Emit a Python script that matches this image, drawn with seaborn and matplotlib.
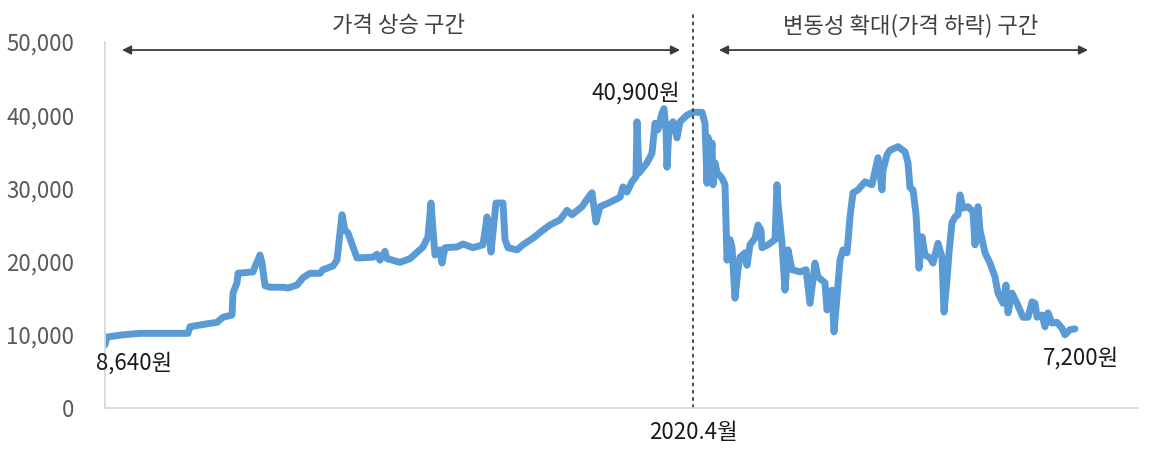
import matplotlib
matplotlib.use("Agg")
import matplotlib.pyplot as plt
import seaborn as sns
import pandas as pd

# trading-day index (0 = start of series) and price in won
day = [0, 2, 18, 35, 83, 85, 102, 112, 118, 127, 128, 132, 133, 148, 150, 155, 157, 160,
       165, 178, 183, 192, 198, 205, 215, 218, 228, 232, 237, 240, 243, 248, 252, 268,
       272, 275, 280, 282, 295, 305,
       318, 323, 326, 328, 330, 335, 337, 340, 352, 358, 368, 378, 382, 384, 386, 391,
       398, 400, 403, 412, 418, 428, 438, 445, 455, 462, 467, 477, 485, 487, 491, 495,
       505, 515, 518, 522, 527, 531, 532, 534, 542, 547, 550, 553, 557, 559, 561, 562,
       564, 568, 572, 575, 582, 588, 597,
       600, 602, 603, 605, 607, 608, 610, 612, 617, 620, 622, 625, 627, 630, 633, 635,
       640, 642, 645, 650, 653, 656, 657, 663, 670, 672, 673, 677, 680, 683, 687, 695,
       701, 705, 710, 713, 720, 722, 727, 729, 732, 735, 738, 742, 745, 748, 753, 760,
       767, 773, 777, 778, 782, 785, 793, 800, 803, 805, 808, 811, 814,
       817, 820, 825, 828, 833, 837, 839, 842, 844, 847, 850, 853, 855, 858, 863, 868,
       870, 873, 875, 880, 885, 890, 893, 898, 901, 903, 907, 912, 918, 923, 927, 930,
       932, 937, 940, 943, 947, 952, 957, 960, 965, 970]
price = [8640, 9700, 10000, 10200, 10200, 11100, 11500, 11700, 12400, 12700, 15700, 17100,
         18400, 18600, 19300, 20900, 19800, 16700, 16500, 16500, 16400, 16800, 17800, 18400,
         18400, 18900, 19400, 20200, 26400, 24300, 23900, 22000, 20500, 20600, 21000, 20200,
         21400, 20400, 19900, 20400,
         22000, 23400, 28000, 24300, 20900, 21600, 19800, 21900, 22000, 22400, 21900, 22300,
         26100, 24700, 21300, 28000, 28000, 23000, 21900, 21600, 22300, 23200, 24300, 25000,
         25700, 27000, 26400, 27500, 29100, 29400, 25400, 27500, 28100, 28800, 30200, 29500,
         30900, 31600, 39100, 32100, 33500, 34800, 38900, 38000, 40300, 40900, 38000, 32900,
         38400, 39100, 36900, 39100, 40000, 40400, 40400,
         38900, 30700, 37000, 31500, 36200, 30500, 33500, 32200, 31400, 30500, 20200, 23000,
         22000, 15000, 18900, 20600, 21200, 19500, 22300, 23200, 25000, 24300, 21900, 22300,
         23000, 30500, 28000, 22500, 16100, 21600, 18900, 18600, 18900, 14300, 19800, 17900,
         17100, 13400, 16100, 10400, 15200, 20200, 21600, 21200, 26100, 29400, 29800, 30900,
         30500, 34200, 29800, 32500, 34600, 35200, 35700, 35000, 33500, 30100, 29800, 26500,
         19100,
         23400, 20900, 20500, 19800, 22500, 20600, 13100, 17500, 21200, 25300, 26100, 26400,
         29100, 27300, 27500, 26800, 22300, 27500, 24300, 21200, 19800, 17900, 15700, 14300,
         16800, 13000, 15700, 14300, 12400, 12400, 14500, 14300, 12400, 12700, 11100, 13000,
         11600, 11700, 10900, 10000, 10700, 10800]

split_day = 588          # 2020.4
y_ticks = [0, 10000, 20000, 30000, 40000, 50000]

df = pd.DataFrame({"day": day, "price": price})

sns.set_theme(style="white")
plt.rcParams['font.family'] = ['Noto Sans CJK KR', 'DejaVu Sans']

fig = plt.figure(figsize=(11.52, 4.58), dpi=100)
ax = fig.add_axes([105 / 1152, 50 / 458, 1033 / 1152, 366 / 458])

sns.lineplot(data=df, x="day", y="price", ax=ax, color="#5B9BD5", lw=5,
             estimator=None, sort=False, solid_capstyle="round", solid_joinstyle="round")

ax.set_xlim(0, 1033)
ax.set_ylim(0, 50000)
ax.set_xticks([])
ax.set_yticks(y_ticks)
ax.set_yticklabels([f"{v:,}" for v in y_ticks])
ax.tick_params(axis="y", length=0, pad=22, labelsize=16, labelcolor="#595959")
ax.set_xlabel("")
ax.set_ylabel("")

for s in ["top", "right"]:
    ax.spines[s].set_visible(False)
for s in ["left", "bottom"]:
    ax.spines[s].set_color("#d9d9d9")
    ax.spines[s].set_linewidth(1.3)

# split line
ax.plot([split_day, split_day], [0, 54100], ls=(0, (2, 2)), color="#404040", lw=1.3,
        clip_on=False)

# section arrows
arrow = dict(arrowstyle="<|-|>", color="#3a3a3a", lw=1.3, mutation_scale=13,
             shrinkA=0, shrinkB=0)
ax.annotate("", xy=(17, 48900), xytext=(575, 48900), arrowprops=arrow, annotation_clip=False)
ax.annotate("", xy=(614, 48900), xytext=(983, 48900), arrowprops=arrow, annotation_clip=False)
ax.text(293, 52300, "가격 상승 구간", ha="center", va="center", fontsize=16, color="#404040")
ax.text(806, 52300, "변동성 확대(가격 하락) 구간", ha="center", va="center", fontsize=16,
        color="#404040")

# value labels
ax.text(29, 6150, "8,640원", ha="center", va="center", fontsize=16, color="#1a1a1a")
ax.text(531, 43000, "40,900원", ha="center", va="center", fontsize=16, color="#1a1a1a")
ax.text(976, 6800, "7,200원", ha="center", va="center", fontsize=16, color="#1a1a1a")
ax.text(split_day, -3300, "2020.4월", ha="center", va="center", fontsize=16, color="#1a1a1a")

fig.savefig("out.png", dpi=100)
